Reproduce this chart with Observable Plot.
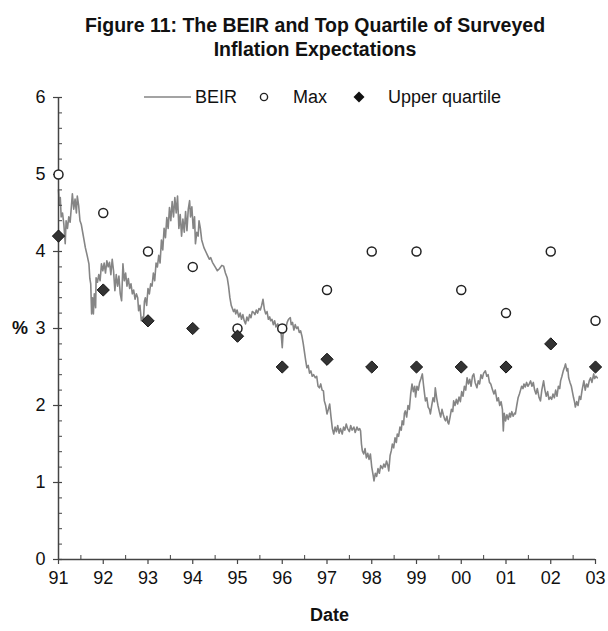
<!DOCTYPE html>
<html>
<head>
<meta charset="utf-8">
<script src="https://cdn.jsdelivr.net/npm/d3@7"></script>
<script src="https://cdn.jsdelivr.net/npm/@observablehq/plot@0.6"></script>
<style>
  html, body { margin: 0; padding: 0; background: #fff; }
  #wrap { position: relative; width: 608px; height: 631px; font-family: "Liberation Sans", Arial, sans-serif; color: #111; }
  #title { position: absolute; left: 0; top: 13px; width: 608px; padding-left: 22px; box-sizing: border-box; text-align: center; font-weight: bold; font-size: 19.5px; line-height: 24px; }
  #legend { position: absolute; top: 86px; left: 0; width: 608px; height: 22px; font-size: 18px; }
  #legend > * { position: absolute; top: 0; line-height: 22px; white-space: nowrap; }
  #chart { position: absolute; left: 0; top: 62px; }
  .lab { position: absolute; font-weight: bold; font-size: 18px; line-height: 20px; }
</style>
</head>
<body>
<div id="wrap">
  <div id="chart"></div>
  <div id="title">Figure 11: The BEIR and Top Quartile of Surveyed<br>Inflation Expectations</div>
  <div id="legend"></div>
  <div class="lab" style="left:12px;top:318px;">%</div>
  <div class="lab" style="left:310px;top:605px;">Date</div>
</div>
<script>
// Survey years (points placed at start of each year)
const surveyYears = [1991, 1992, 1993, 1994, 1995, 1996, 1997, 1998, 1999, 2000, 2001, 2002, 2003];
const maxValues = [5.0, 4.5, 4.0, 3.8, 3.0, 3.0, 3.5, 4.0, 4.0, 3.5, 3.2, 4.0, 3.1];
const upperQuartileValues = [4.2, 3.5, 3.1, 3.0, 2.9, 2.5, 2.6, 2.5, 2.5, 2.5, 2.5, 2.8, 2.5];

// BEIR series (decimal year, %)
const beirYears = [
1991.00,1991.02,1991.04,1991.06,1991.09,1991.12,1991.15,1991.17,1991.20,1991.23,1991.26,1991.29,1991.31,1991.34,1991.37,1991.40,1991.42,1991.45,1991.48,1991.51,
1991.54,1991.57,1991.60,1991.64,1991.68,1991.70,1991.72,1991.74,1991.76,1991.78,1991.80,1991.83,1991.84,1991.87,1991.90,1991.93,1991.96,1991.99,
1992.02,1992.05,1992.08,1992.11,1992.14,1992.17,1992.20,1992.23,1992.26,1992.29,1992.32,1992.35,1992.38,1992.41,1992.44,1992.47,1992.50,1992.53,1992.56,1992.59,
1992.62,1992.65,1992.68,1992.71,1992.74,1992.77,1992.79,1992.82,1992.85,1992.88,1992.90,1992.92,1992.94,1992.97,
1993.00,1993.03,1993.06,1993.09,1993.12,1993.15,1993.18,1993.21,1993.24,1993.27,1993.30,1993.33,1993.36,1993.39,1993.42,1993.45,1993.48,1993.51,1993.54,1993.57,
1993.60,1993.63,1993.66,1993.69,1993.72,1993.75,1993.78,1993.81,1993.84,1993.87,1993.90,1993.93,1993.95,1993.98,
1994.01,1994.04,1994.06,1994.09,1994.12,1994.14,1994.17,1994.20,1994.25,1994.29,1994.33,1994.37,1994.40,1994.44,1994.48,1994.51,1994.55,1994.60,1994.65,1994.69,
1994.73,1994.77,1994.80,1994.83,1994.86,1994.88,1994.91,1994.94,1994.96,1994.99,
1995.03,1995.06,1995.09,1995.12,1995.15,1995.18,1995.21,1995.24,1995.27,1995.30,1995.33,1995.36,1995.39,1995.42,1995.45,1995.48,1995.51,1995.54,1995.57,1995.60,
1995.63,1995.66,1995.69,1995.72,1995.74,1995.77,1995.80,1995.83,1995.86,1995.90,1995.93,1995.96,1995.98,
1996.00,1996.02,1996.05,1996.08,1996.11,1996.14,1996.18,1996.20,1996.23,1996.26,1996.29,1996.32,1996.35,1996.38,1996.41,1996.44,1996.47,1996.49,1996.52,1996.55,
1996.58,1996.61,1996.64,1996.67,1996.70,1996.74,1996.77,1996.80,1996.83,1996.86,1996.89,1996.92,1996.94,1996.97,
1997.00,1997.03,1997.06,1997.09,1997.12,1997.15,1997.18,1997.21,1997.24,1997.27,1997.30,1997.34,1997.37,1997.40,1997.43,1997.46,1997.50,1997.53,1997.56,1997.60,
1997.63,1997.67,1997.70,1997.73,1997.75,1997.77,1997.79,1997.82,1997.85,1997.88,1997.91,1997.94,1997.97,
1998.00,1998.03,1998.05,1998.08,1998.11,1998.14,1998.17,1998.20,1998.24,1998.27,1998.30,1998.33,1998.36,1998.38,1998.41,1998.44,1998.46,1998.49,1998.52,1998.55,
1998.57,1998.60,1998.63,1998.66,1998.68,1998.71,1998.73,1998.75,1998.78,1998.81,1998.84,1998.87,1998.90,1998.93,1998.96,1998.98,
1999.01,1999.04,1999.07,1999.10,1999.13,1999.16,1999.18,1999.20,1999.23,1999.26,1999.29,1999.31,1999.34,1999.37,1999.40,1999.42,1999.45,1999.48,1999.51,1999.54,
1999.57,1999.60,1999.63,1999.65,1999.68,1999.70,1999.72,1999.75,1999.78,1999.81,1999.83,1999.86,1999.89,1999.92,1999.95,1999.98,
2000.01,2000.04,2000.07,2000.10,2000.13,2000.16,2000.19,2000.22,2000.25,2000.28,2000.31,2000.35,2000.38,2000.41,2000.44,2000.47,2000.50,2000.54,2000.57,2000.60,
2000.63,2000.66,2000.70,2000.73,2000.76,2000.80,2000.83,2000.86,2000.89,2000.92,2000.94,2000.96,2000.99,
2001.02,2001.05,2001.08,2001.10,2001.13,2001.16,2001.19,2001.21,2001.24,2001.27,2001.30,2001.32,2001.35,2001.38,2001.40,2001.43,2001.46,2001.49,2001.52,2001.55,
2001.58,2001.61,2001.64,2001.67,2001.70,2001.74,2001.77,2001.80,2001.84,2001.87,2001.90,2001.93,2001.96,2001.99,
2002.02,2002.05,2002.08,2002.11,2002.14,2002.17,2002.20,2002.22,2002.25,2002.28,2002.31,2002.33,2002.36,2002.38,2002.40,2002.43,2002.46,2002.48,2002.51,2002.53,
2002.55,2002.58,2002.61,2002.64,2002.67,2002.70,2002.74,2002.77,2002.80,2002.83,2002.86,2002.89,2002.92,2002.96,2002.98,2003.01,2003.04
];
const beirValues = [
4.80,4.60,4.70,4.45,4.50,4.35,4.10,4.40,4.30,4.45,4.38,4.60,4.75,4.55,4.68,4.50,4.72,4.60,4.40,4.35,
4.25,4.15,4.05,3.95,3.84,3.65,3.58,3.19,3.40,3.19,3.45,3.27,3.66,3.60,3.70,3.62,3.84,3.75,
3.85,3.72,3.88,3.80,3.86,3.70,3.90,3.75,3.49,3.70,3.55,3.68,3.45,3.36,3.84,3.62,3.72,3.55,3.65,3.52,
3.58,3.45,3.50,3.38,3.45,3.40,3.23,3.30,3.10,3.15,3.12,3.35,3.40,3.30,
3.52,3.45,3.58,3.55,3.72,3.62,3.85,3.80,3.95,3.85,4.15,4.02,4.30,4.18,4.44,4.30,4.57,4.40,4.65,4.45,
4.70,4.50,4.72,4.30,4.48,4.20,4.42,4.25,4.52,4.27,4.55,4.66,4.45,4.58,
4.30,4.45,4.10,4.25,4.20,4.40,4.30,4.15,4.05,4.00,3.95,3.90,3.92,3.86,3.82,3.79,3.75,3.78,3.82,3.81,
3.72,3.66,3.55,3.40,3.30,3.27,3.22,3.25,3.19,3.24,
3.15,3.20,3.12,3.18,3.10,3.06,3.15,3.10,3.18,3.14,3.22,3.21,3.18,3.24,3.20,3.26,3.24,3.30,3.38,3.25,
3.19,3.22,3.12,3.15,3.10,3.12,3.05,3.10,3.02,3.06,3.00,3.01,2.90,
2.75,2.95,3.05,3.00,3.08,3.12,3.14,3.05,3.08,2.98,3.05,3.00,3.02,2.95,2.97,2.90,2.80,2.72,2.60,2.49,
2.52,2.42,2.45,2.38,2.40,2.36,2.38,2.25,2.23,2.28,2.20,2.19,2.06,2.00,
1.89,1.95,2.02,1.85,1.70,1.63,1.72,1.66,1.74,1.64,1.70,1.63,1.72,1.68,1.76,1.70,1.66,1.74,1.68,1.72,
1.65,1.72,1.68,1.70,1.67,1.50,1.41,1.37,1.44,1.32,1.38,1.30,1.37,
1.20,1.10,1.02,1.12,1.08,1.18,1.12,1.22,1.18,1.24,1.20,1.28,1.22,1.15,1.35,1.42,1.50,1.45,1.58,1.52,
1.63,1.60,1.72,1.68,1.80,1.75,1.90,1.93,1.85,2.00,1.95,2.15,2.28,2.18,2.25,2.11,
2.25,2.20,2.30,2.35,2.41,2.25,2.15,2.06,2.10,1.98,1.95,1.89,2.00,2.10,2.05,2.23,2.10,2.00,1.92,1.85,
1.95,1.88,1.82,1.80,1.86,1.78,1.76,1.85,1.95,1.92,2.06,2.00,2.08,2.02,2.11,2.05,
2.18,2.12,2.25,2.20,2.36,2.28,2.34,2.25,2.38,2.41,2.30,2.23,2.32,2.28,2.40,2.35,2.42,2.45,2.38,2.40,
2.30,2.28,2.20,2.15,2.20,2.06,2.10,2.00,2.05,1.95,1.67,1.90,1.80,
1.88,1.82,1.90,1.85,1.92,1.86,1.90,1.89,2.00,2.10,2.15,2.19,2.25,2.22,2.28,2.24,2.30,2.25,2.28,2.32,
2.25,2.30,2.20,2.15,2.22,2.10,2.06,2.20,2.32,2.20,2.12,2.18,2.08,2.11,
2.08,2.15,2.10,2.20,2.12,2.25,2.22,2.32,2.38,2.45,2.50,2.54,2.45,2.48,2.36,2.30,2.25,2.19,2.10,2.05,
1.98,2.05,2.00,2.12,2.08,2.20,2.32,2.20,2.28,2.24,2.32,2.36,2.30,2.41,2.35,2.38,2.36
];

const yMajorTicks = [0, 1, 2, 3, 4, 5, 6];
const yMinorTicks = d3.range(0, 30).map(i => i * 0.2).filter(v => Math.abs(v - Math.round(v)) > 1e-6);
const xMajorTicks = surveyYears;
const xMinorTicks = surveyYears.slice(0, -1).map(y => y + 0.5);
const legendItems = ["BEIR", "Max", "Upper quartile"];

const beir = beirYears.map((x, i) => ({x, y: beirValues[i]}));
const maxData = surveyYears.map((x, i) => ({x, y: maxValues[i]}));
const uqData = surveyYears.map((x, i) => ({x, y: upperQuartileValues[i]}));

const axisColor = "#444";
const chart = Plot.plot({
  width: 608,
  height: 569,
  marginLeft: 58,
  marginRight: 13,
  marginTop: 35,
  marginBottom: 72,
  style: {fontFamily: "'Liberation Sans', Arial, sans-serif", fontSize: "18px", color: "#111", background: "white"},
  x: {domain: [1991, 2003], axis: null},
  y: {domain: [0, 6], axis: null},
  marks: [
    Plot.line(beir, {x: "x", y: "y", stroke: "#858585", strokeWidth: 1.6}),
    Plot.ruleX([1991], {stroke: axisColor, strokeWidth: 1.5}),
    Plot.ruleY([0], {stroke: axisColor, strokeWidth: 1.5}),
    Plot.axisY({ticks: yMajorTicks, tickSize: 9, dx: 4, tickPadding: 8, tickFormat: d => String(d), label: null, stroke: axisColor, strokeWidth: 1.2, fill: "#111", fontSize: 18}),
    Plot.axisY({ticks: yMinorTicks, tickSize: 4, dx: 4, tickFormat: () => "", label: null, stroke: axisColor, strokeWidth: 1}),
    Plot.axisX({ticks: xMajorTicks, tickSize: 5, tickPadding: 7, tickFormat: d => String(d % 100).padStart(2, "0"), label: null, stroke: axisColor, strokeWidth: 1.2, fill: "#111", fontSize: 18}),
    Plot.axisX({ticks: xMinorTicks, tickSize: 4, dy: -4, tickFormat: () => "", label: null, stroke: axisColor, strokeWidth: 1}),
    Plot.dot(maxData, {x: "x", y: "y", symbol: "circle", r: 4.5, fill: "white", stroke: "#222", strokeWidth: 1.5}),
    Plot.dot(uqData, {x: "x", y: "y", symbol: "diamond2", r: 5.5, fill: "#333", stroke: "#111", strokeWidth: 1})
  ]
});
document.getElementById("chart").appendChild(chart);

// Legend
const legend = document.getElementById("legend");
legend.innerHTML = `
  <svg style="left:144px;top:5px" width="48" height="12"><line x1="0" y1="6" x2="47" y2="6" stroke="#858585" stroke-width="1.6"/></svg>
  <span style="left:195px">${legendItems[0]}</span>
  <svg style="left:258px;top:5px" width="12" height="12"><circle cx="6" cy="6" r="3.6" fill="white" stroke="#222" stroke-width="1.4"/></svg>
  <span style="left:293px">${legendItems[1]}</span>
  <svg style="left:352px;top:4px" width="14" height="14"><path d="M7,1.5L12.5,7L7,12.5L1.5,7Z" fill="#111"/></svg>
  <span style="left:388px">${legendItems[2]}</span>
`;
</script>
</body>
</html>
